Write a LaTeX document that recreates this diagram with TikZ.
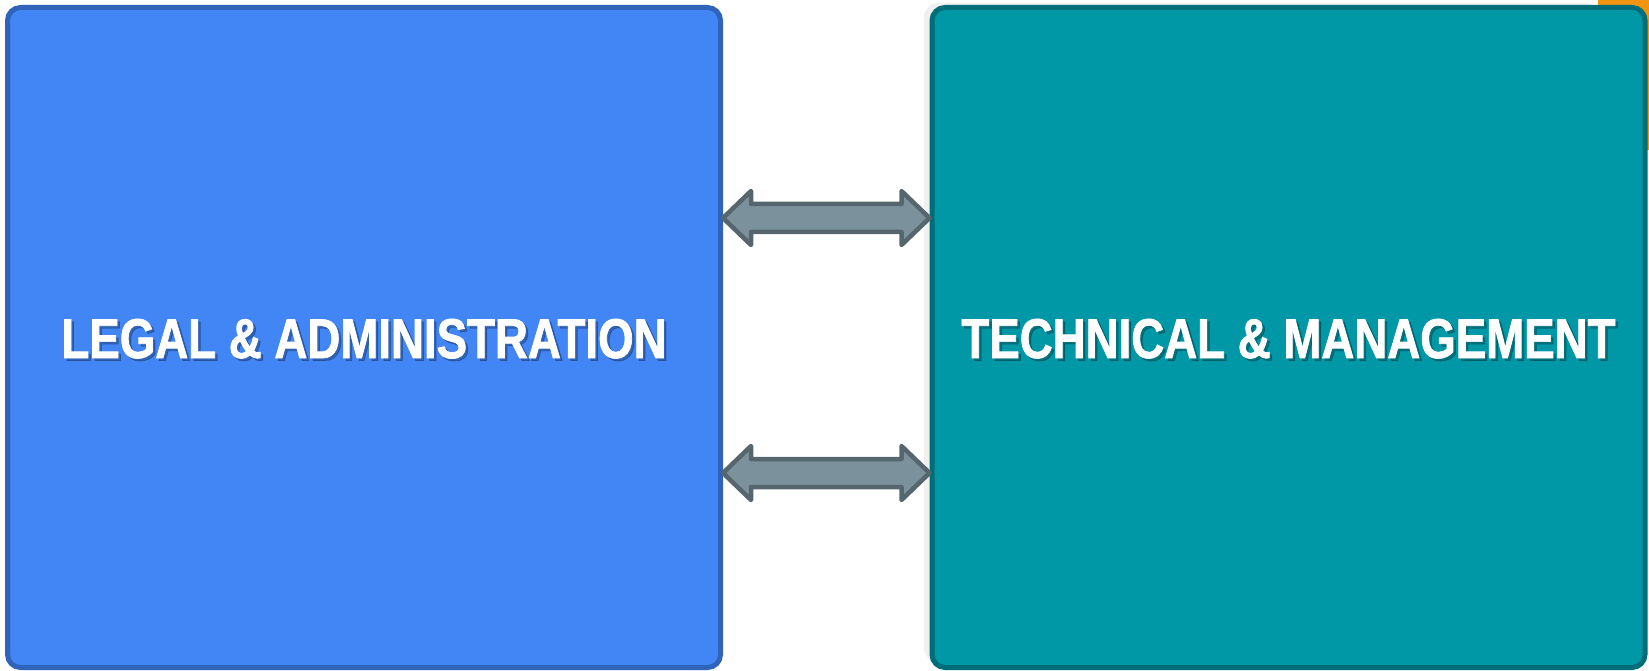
\documentclass[tikz,border=0pt]{standalone}
\usepackage{fontspec}
\newfontfamily\labelfont[FakeStretch=0.815,FakeBold=1.3]{Liberation Sans}
\usetikzlibrary{calc}
\definecolor{legalfill}{HTML}{4285F4}
\definecolor{legaldraw}{HTML}{3063BA}
\definecolor{techfill}{HTML}{0097A7}
\definecolor{techdraw}{HTML}{006E78}
\definecolor{arrowfill}{HTML}{7B919B}
\definecolor{arrowdraw}{HTML}{56666E}
\definecolor{orangeacc}{HTML}{F39410}
\tikzset{
  panel/.style={rectangle, rounded corners=13pt, line width=5pt, inner sep=0pt,
    minimum width=713pt, minimum height=660pt},
  legalbox/.style={panel, fill=legalfill, draw=legaldraw},
  techbox/.style={panel, fill=techfill, draw=techdraw},
  paneltext/.style={anchor=base, inner sep=0pt, text=white,
    font=\labelfont\bfseries\fontsize{56}{60}\selectfont},
  panelshadow/.style={paneltext, text=black, opacity=0.25},
  blockarrow/.style={fill=arrowfill, draw=arrowdraw, line width=4.5pt, line join=round}
}
\begin{document}
\begin{tikzpicture}[x=1pt,y=-1pt]
\useasboundingbox (0,0) rectangle (1649,671);
% soft shadow of right panel
\fill[gray!12, rounded corners=14pt] (924,3) rectangle (1600,662);
% orange accent behind right panel
\fill[orangeacc] (1598,0) rectangle (1649,150);
% panels
\node[legalbox] (legal) at (364,337.5) {};
\node[techbox] (tech) at (1288.5,337.5) {};
% labels with drop shadow
\node[panelshadow] (legalsh) at (366.5,360.5) {LEGAL \& ADMINISTRATION};
\node[paneltext] (legaltxt) at (364,358) {LEGAL \& ADMINISTRATION};
\node[panelshadow] (techsh) at (1291,360.5) {TECHNICAL \& MANAGEMENT};
\node[paneltext] (techtxt) at (1288.5,358) {TECHNICAL \& MANAGEMENT};
% arrow end points
\coordinate (s1) at (legal.east |- 0,218);
\coordinate (e1) at (tech.west |- 0,218);
\coordinate (s2) at (legal.east |- 0,473);
\coordinate (e2) at (tech.west |- 0,473);
\foreach \s/\e in {s1/e1, s2/e2}{
  \draw[blockarrow] (\s) -- ($(\s)+(28,-27)$) -- ($(\s)+(28,-14)$) -- ($(\e)+(-28,-14)$)
    -- ($(\e)+(-28,-27)$) -- (\e) -- ($(\e)+(-28,27)$) -- ($(\e)+(-28,14)$)
    -- ($(\s)+(28,14)$) -- ($(\s)+(28,27)$) -- cycle;
}
\end{tikzpicture}
\end{document}
